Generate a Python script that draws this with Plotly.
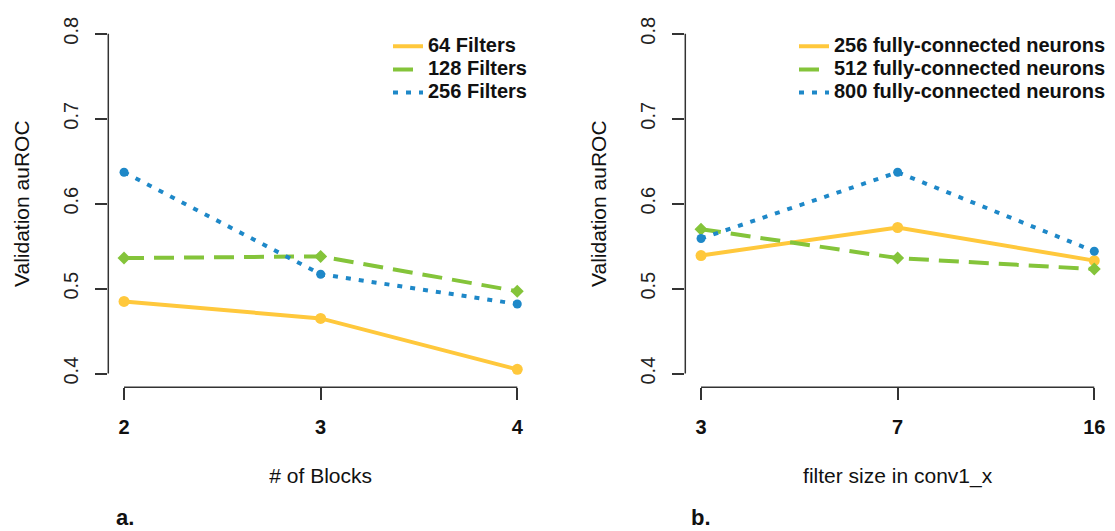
import plotly.graph_objects as go

# ---- data ----
blocks = ["2", "3", "4"]
filters_64 = [0.485, 0.465, 0.405]
filters_128 = [0.536, 0.538, 0.497]
filters_256 = [0.637, 0.517, 0.482]

filter_sizes = ["3", "7", "16"]
neurons_256 = [0.539, 0.572, 0.533]
neurons_512 = [0.570, 0.536, 0.523]
neurons_800 = [0.559, 0.637, 0.544]

y_ticks = [0.4, 0.5, 0.6, 0.7, 0.8]

YELLOW = "#FFC83C"
GREEN = "#84C43A"
BLUE = "#1E88C8"
FONT = "Liberation Sans, Arial, sans-serif"
AX = "#333333"
W, H = 1115, 531

fig = go.Figure()

def add(x, y, name, color, dash, symbol, msize, xa, ya, legend):
    fig.add_trace(go.Scatter(
        x=x, y=y, name=f'<b><span style="font-size:20px">{name}</span></b>',
        mode="lines", xaxis=xa, yaxis=ya, legend=legend, legendgroup=name,
        line=dict(color=color, width=4, dash=dash),
    ))
    fig.add_trace(go.Scatter(
        x=x, y=y, name=name, mode="markers", xaxis=xa, yaxis=ya,
        legendgroup=name, showlegend=False,
        marker=dict(color=color, size=msize, symbol=symbol),
    ))

add(blocks, filters_64, "64 Filters", YELLOW, "solid", "circle", 11, "x", "y", "legend")
add(blocks, filters_128, "128 Filters", GREEN, "20px,10px", "diamond", 10, "x", "y", "legend")
add(blocks, filters_256, "256 Filters", BLUE, "5px,8px", "circle", 9, "x", "y", "legend")

add(filter_sizes, neurons_256, "256 fully-connected neurons", YELLOW, "solid", "circle", 11, "x2", "y2", "legend2")
add(filter_sizes, neurons_512, "512 fully-connected neurons", GREEN, "20px,10px", "diamond", 10, "x2", "y2", "legend2")
add(filter_sizes, neurons_800, "800 fully-connected neurons", BLUE, "5px,8px", "circle", 9, "x2", "y2", "legend2")

ydom = [1 - 386.4 / H, 1 - 17.3 / H]

xcommon = dict(type="category", range=[-0.08, 2.08], showgrid=False, zeroline=False,
               showline=False, ticks="outside", ticklen=12, tickwidth=1.5, tickcolor=AX,
               tickfont=dict(family=FONT, size=20, color="#111111", weight="bold"),
               ticklabelstandoff=10,
               title=dict(font=dict(family=FONT, size=21, color="#111111"), standoff=31))
ycommon = dict(range=[0.384, 0.816], tickvals=y_ticks, ticktext=[f"{v:.1f}" for v in y_ticks],
               showgrid=False, zeroline=False, showline=False, ticks="outside", ticklen=12,
               tickwidth=1.5, tickcolor=AX, tickangle=-90,
               tickfont=dict(family=FONT, size=20, color="#222222"),
               ticklabelstandoff=9,
               title=dict(text="Validation auROC", font=dict(family=FONT, size=21, color="#111111"),
                          standoff=24))

fig.update_layout(
    width=W, height=H,
    margin=dict(l=0, r=0, t=0, b=0),
    paper_bgcolor="white", plot_bgcolor="white",
    showlegend=True,
    xaxis=dict(xcommon, domain=[108.3 / W, 533 / W], anchor="y",
               title=dict(xcommon["title"], text="# of Blocks")),
    yaxis=dict(ycommon, domain=ydom, anchor="x"),
    xaxis2=dict(xcommon, domain=[685.3 / W, 1110 / W], anchor="y2",
                title=dict(xcommon["title"], text="filter size in conv1_x")),
    yaxis2=dict(ycommon, domain=ydom, anchor="x2"),
    legend=dict(x=388 / W, y=1 - 27 / H, xanchor="left", yanchor="top",
                bgcolor="rgba(0,0,0,0)", font=dict(family=FONT, size=15.4, color="#111111"),
                tracegroupgap=0),
    legend2=dict(x=794 / W, y=1 - 27 / H, xanchor="left", yanchor="top",
                 bgcolor="rgba(0,0,0,0)", font=dict(family=FONT, size=15.4, color="#111111"),
                 tracegroupgap=0),
    annotations=[
        dict(text="<b>a.</b>", x=125 / W, y=0, xref="paper", yref="paper",
             xanchor="center", yanchor="bottom", borderpad=0,
             showarrow=False, font=dict(family=FONT, size=22, color="#111111")),
        dict(text="<b>b.</b>", x=701 / W, y=0, xref="paper", yref="paper",
             xanchor="center", yanchor="bottom", borderpad=0,
             showarrow=False, font=dict(family=FONT, size=22, color="#111111")),
    ],
    shapes=[
        # R-style axis lines spanning only the tick range
        dict(type="line", xref="x domain", yref="y", x0=0, x1=0, y0=y_ticks[0], y1=y_ticks[-1],
             line=dict(color=AX, width=1.5)),
        dict(type="line", xref="x", yref="y domain", x0=0, x1=len(blocks) - 1, y0=0, y1=0,
             line=dict(color=AX, width=1.5)),
        dict(type="line", xref="x2 domain", yref="y2", x0=0, x1=0, y0=y_ticks[0], y1=y_ticks[-1],
             line=dict(color=AX, width=1.5)),
        dict(type="line", xref="x2", yref="y2 domain", x0=0, x1=len(filter_sizes) - 1, y0=0, y1=0,
             line=dict(color=AX, width=1.5)),
    ],
)

fig.write_html("out.html", config={"displayModeBar": False},
               post_script="document.body.style.margin='0';document.body.style.overflow='hidden';")
